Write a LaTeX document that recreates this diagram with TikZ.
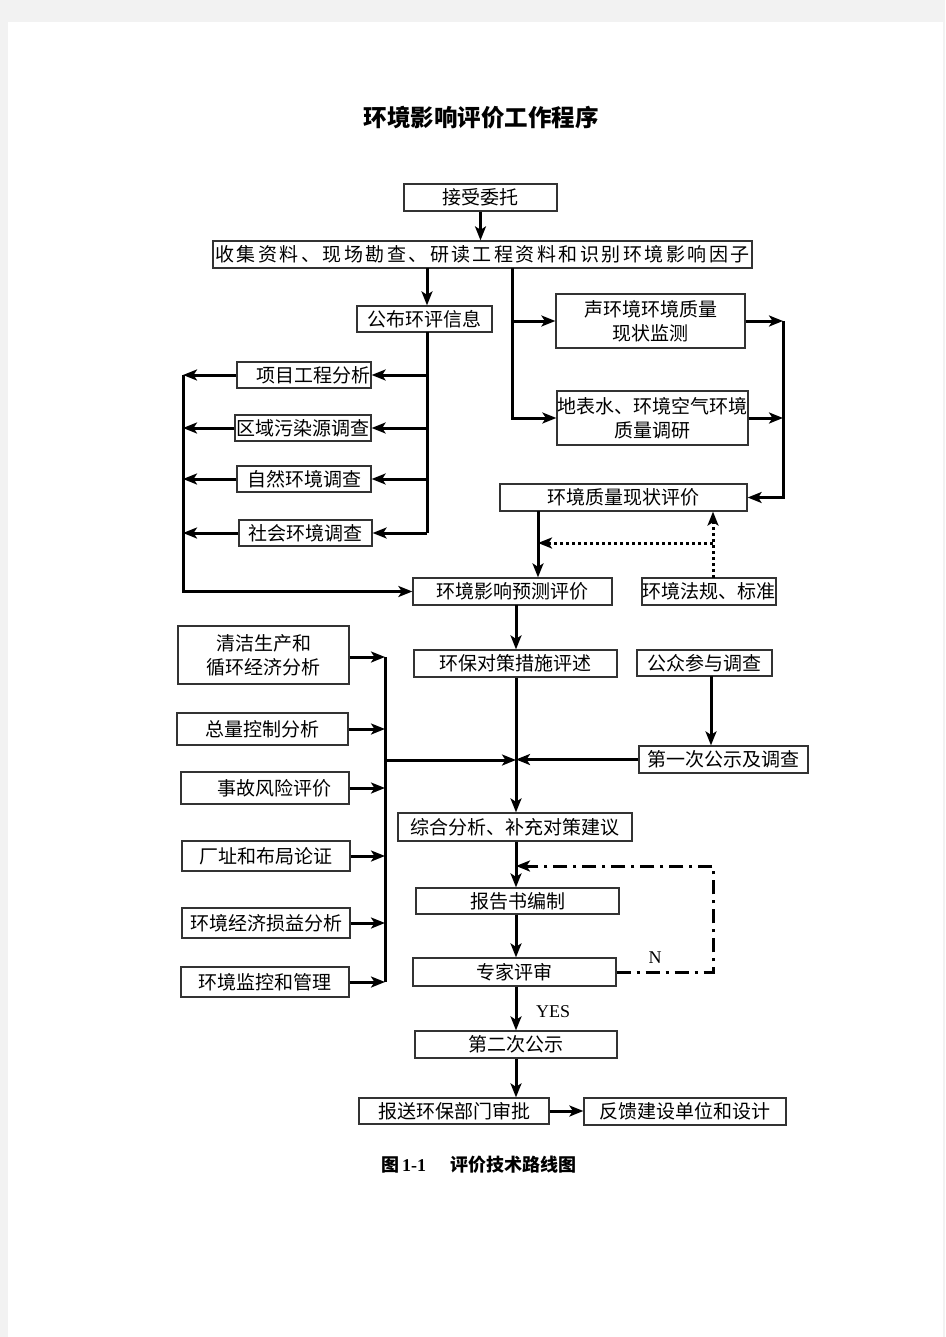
\documentclass[tikz,border=0pt]{standalone}
\usepackage{fontspec}
\setmainfont{Liberation Serif}
\newfontfamily\cjk{Noto Sans CJK SC}
\usetikzlibrary{arrows.meta,calc}
\definecolor{pagegray}{HTML}{F2F2F2}
\definecolor{boxline}{HTML}{333333}
\begin{document}
\begin{tikzpicture}[x=1pt,y=-1pt,
  bx/.style={draw=boxline,line width=1.3pt,inner sep=0pt,align=center,
    font=\cjk\fontsize{19}{24}\selectfont},
  ln/.style={line width=3pt,black},
  ar/.style={ln,-{Stealth[length=14pt,width=11pt,inset=3.5pt]}},
  dotar/.style={ar,dash pattern=on 3pt off 3pt},
  ddar/.style={ar,dash pattern=on 14pt off 6pt on 3pt off 6pt},
  lbl/.style={inner sep=0pt,font=\fontsize{18}{20}\selectfont}]
\useasboundingbox (0,0) rectangle (945,1337);
\fill[pagegray] (0,0) rectangle (945,1337);
\fill[white] (8,22) rectangle (943,1337);

\node[inner sep=0pt,font=\cjk\bfseries\fontsize{23.5}{28}\selectfont] (title) at (481,118) {环境影响评价工作程序};

\node[bx,minimum width=153pt,minimum height=27pt] (b1) at (480.5,197.5) {接受委托};
\node[bx,minimum width=539pt,minimum height=27pt] (b2) at (482.5,254.5) {\addfontfeature{LetterSpace=13}收集资料、现场勘查、研读工程资料和识别环境影响因子};
\node[bx,minimum width=135pt,minimum height=26pt] (b3) at (424.5,319) {公布环评信息};
\node[bx,minimum width=189pt,minimum height=54pt] (b4) at (650.5,321) {声环境环境质量\\现状监测};
\node[bx,minimum width=191pt,minimum height=54pt] (b5) at (652.5,418) {地表水、环境空气环境\\质量调研};
\node[bx,minimum width=134pt,minimum height=26pt] (b6) at (304,375) {\hspace*{18pt}项目工程分析};
\node[bx,minimum width=136pt,minimum height=26pt] (b7) at (303,428) {区域污染源调查};
\node[bx,minimum width=134pt,minimum height=26pt] (b8) at (304,479) {自然环境调查};
\node[bx,minimum width=133pt,minimum height=26pt] (b9) at (305.5,533) {社会环境调查};
\node[bx,minimum width=247pt,minimum height=27pt] (b10) at (623.5,497.5) {环境质量现状评价};
\node[bx,minimum width=199pt,minimum height=27pt] (b11) at (512.5,591.5) {环境影响预测评价};
\node[bx,minimum width=134pt,minimum height=27pt] (b12) at (709,591.5) {环境法规、标准};
\node[bx,minimum width=171pt,minimum height=58pt] (b13) at (263.5,655) {清洁生产和\\循环经济分析};
\node[bx,minimum width=203pt,minimum height=27pt] (b14) at (515.5,663.5) {环保对策措施评述};
\node[bx,minimum width=135pt,minimum height=26pt] (b15) at (704.5,663) {公众参与调查};
\node[bx,minimum width=171pt,minimum height=32pt] (b16) at (262.5,729) {总量控制分析};
\node[bx,minimum width=169pt,minimum height=27pt] (b17) at (723.5,759.5) {第一次公示及调查};
\node[bx,minimum width=168pt,minimum height=32pt] (b18) at (265,788) {\hspace*{18pt}事故风险评价};
\node[bx,minimum width=234pt,minimum height=28pt] (b19) at (515,827) {综合分析、补充对策建议};
\node[bx,minimum width=168pt,minimum height=30pt] (b20) at (266,856) {厂址和布局论证};
\node[bx,minimum width=203pt,minimum height=26pt] (b21) at (517.5,901) {报告书编制};
\node[bx,minimum width=168pt,minimum height=30pt] (b22) at (266,923) {环境经济损益分析};
\node[bx,minimum width=203pt,minimum height=28pt] (b23) at (514.5,972) {专家评审};
\node[bx,minimum width=168pt,minimum height=30pt] (b24) at (265,982) {环境监控和管理};
\node[bx,minimum width=202pt,minimum height=27pt] (b25) at (516,1044.5) {第二次公示};
\node[bx,minimum width=190pt,minimum height=26pt] (b26) at (454,1111) {报送环保部门审批};
\node[bx,minimum width=202pt,minimum height=27pt] (b27) at (685,1111.5) {反馈建设单位和设计};

\node[lbl] (yes) at (553,1012) {YES};
\node[lbl] (nlab) at (655,958) {N};
\node[inner sep=0pt] (cap) at (478.5,1165) {{\cjk\bfseries\fontsize{18}{20}\selectfont 图}\hspace{3pt}{\bfseries\fontsize{18}{20}\selectfont 1-1}\hspace{24pt}{\cjk\bfseries\fontsize{18}{20}\selectfont 评价技术路线图}};

% top
\draw[ar] (b1.south) -- (b1.south |- b2.north);
\coordinate (c3) at (427,268);
\draw[ar] (c3) -- (c3 |- b3.north);
% right branch
\coordinate (rTop) at (512,268);
\draw[ar] (rTop) |- (b5.west);
\draw[ar] (rTop |- b4.west) -- (b4.west);
\coordinate (rb) at (783,320);
\draw[ar] (b4.east) -- (b4.east -| rb);
\draw[ar] (b5.east) -- (b5.east -| rb);
\draw[ar] (b4.east -| rb) |- (b10.east);
% from 公布
\coordinate (pb) at (427,332);
\draw[ln] (pb) -- (pb |- b9.east);
\draw[ar] (pb |- b6.east) -- (b6.east);
\draw[ar] (pb |- b7.east) -- (b7.east);
\draw[ar] (pb |- b8.east) -- (b8.east);
\draw[ar] (pb |- b9.east) -- (b9.east);
% left bus
\coordinate (lb) at (183,375);
\draw[ar] (b6.west) -- (b6.west -| lb);
\draw[ar] (b7.west) -- (b7.west -| lb);
\draw[ar] (b8.west) -- (b8.west -| lb);
\draw[ar] (b9.west) -- (b9.west -| lb);
\draw[ar] (b6.west -| lb) |- (b11.west);
% quality -> prediction
\coordinate (q) at (538,511);
\draw[ar] (q) -- (q |- b11.north);
% laws dotted
\coordinate (lw) at (713,578);
\draw[dotar] (lw) -- (lw |- b10.south);
\coordinate (dh) at (713,543);
\draw[dotar] (dh) -- (q |- dh);
% centre column
\coordinate (m) at (516,605);
\draw[ar] (m) -- (m |- b14.north);
\draw[ar] (b14.south -| m) -- (m |- b19.north);
\coordinate (pq) at (711,676);
\draw[ar] (pq) -- (pq |- b17.north);
\draw[ar] (b17.west) -- (b17.west -| m);
% second left bus
\coordinate (lb2) at (385,657);
\draw[ar] (b13.east |- lb2) -- (lb2);
\draw[ar] (b16.east) -- (b16.east -| lb2);
\draw[ar] (b18.east) -- (b18.east -| lb2);
\draw[ar] (b20.east) -- (b20.east -| lb2);
\draw[ar] (b22.east) -- (b22.east -| lb2);
\draw[ar] (b24.east) -- (b24.east -| lb2);
\draw[ln] (lb2) -- (lb2 |- b24.east);
\coordinate (mj) at (385,760);
\draw[ar] (mj) -- (mj -| m);
% lower
\draw[ar] (b19.south -| m) -- (m |- b21.north);
\draw[ar] (b21.south -| m) -- (m |- b23.north);
\draw[ar] (b23.south -| m) -- (m |- b25.north);
\draw[ar] (b25.south -| m) -- (m |- b26.north);
\draw[ar] (b26.east) -- (b26.east -| b27.west);
\coordinate (nT) at (713,866);
\draw[ddar] (b23.east) -| (nT) -- (nT -| m);
\end{tikzpicture}
\end{document}
